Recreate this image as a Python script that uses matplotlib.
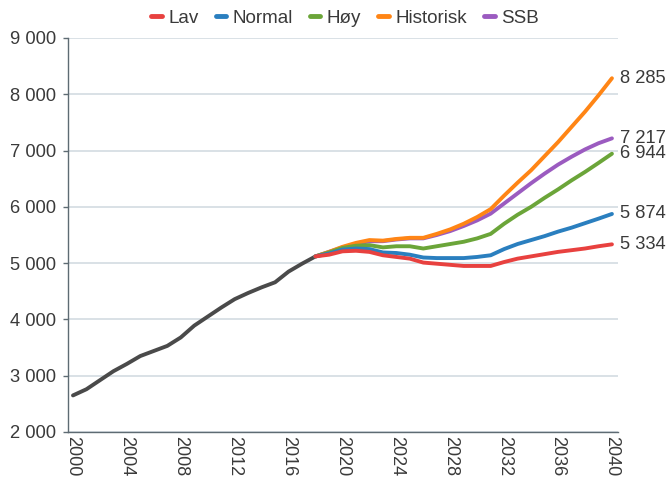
import matplotlib
matplotlib.use("Agg")
import matplotlib.pyplot as plt
from matplotlib.lines import Line2D
from matplotlib.ticker import FuncFormatter

plt.rcParams['font.family'] = ['Liberation Sans', 'DejaVu Sans']

hist_years = list(range(2000, 2019))
hist_vals = [2650, 2760, 2920, 3080, 3210, 3350, 3440, 3530, 3680, 3890,
             4050, 4210, 4360, 4470, 4570, 4660, 4850, 4990, 5120]

proj_years = list(range(2018, 2041))
lav = [5120, 5150, 5210, 5220, 5200, 5140, 5110, 5080, 5010, 4990, 4970, 4950,
       4950, 4950, 5020, 5080, 5120, 5160, 5200, 5230, 5260, 5300, 5334]
normal = [5120, 5170, 5240, 5260, 5250, 5190, 5180, 5150, 5100, 5090, 5090, 5090,
          5110, 5140, 5250, 5340, 5410, 5480, 5560, 5630, 5710, 5790, 5874]
hoy = [5120, 5190, 5270, 5310, 5320, 5280, 5300, 5300, 5260, 5300, 5340, 5380,
       5440, 5520, 5700, 5860, 6000, 6160, 6310, 6470, 6620, 6780, 6944]
historisk = [5120, 5200, 5290, 5360, 5410, 5400, 5430, 5450, 5450, 5520, 5600, 5700,
             5820, 5960, 6200, 6430, 6650, 6900, 7150, 7420, 7690, 7980, 8285]
ssb = [5120, 5200, 5280, 5340, 5390, 5390, 5420, 5440, 5440, 5500, 5570, 5660,
       5760, 5880, 6060, 6240, 6420, 6590, 6750, 6890, 7020, 7130, 7217]

series_names = ["Lav", "Normal", "Høy", "Historisk", "SSB"]
series_vals = [lav, normal, hoy, historisk, ssb]
colors = ["#E8413F", "#2A7FBF", "#6BA539", "#FF8515", "#9B5BC0"]
hist_color = "#4A4A4A"
text_color = "#3A3A3A"

x_ticks = list(range(2000, 2041, 4))
y_ticks = list(range(2000, 9001, 1000))

fig = plt.figure(figsize=(6.7, 4.83), dpi=100)
ax = fig.add_axes([68/670, 1-432/483, 550/670, 394/483])

ax.plot(hist_years, hist_vals, color=hist_color, lw=2.8, solid_capstyle='round', zorder=3)
draw_order = [4, 3, 2, 1, 0]
for i in draw_order:
    ax.plot(proj_years, series_vals[i], color=colors[i], lw=2.8,
            solid_capstyle='round', zorder=3 + (5 - i) * 0.1 + 0.5)

for i in range(5):
    v = series_vals[i][-1]
    ax.annotate(f"{v:,}".replace(",", " "), xy=(proj_years[-1], v),
                xytext=(6, 0), textcoords='offset points',
                va='center', ha='left', fontsize=13.2, color=text_color,
                annotation_clip=False)

ax.set_xlim(1999.63, 2040.45)
ax.set_ylim(2000, 9000)
ax.set_xticks(x_ticks)
ax.set_xticklabels([str(t) for t in x_ticks], rotation=-90, fontsize=13, color=text_color)
ax.set_yticks(y_ticks)
ax.yaxis.set_major_formatter(FuncFormatter(lambda v, p: f"{int(v):,}".replace(",", " ")))
ax.tick_params(axis='y', labelsize=13.2, labelcolor=text_color, length=3.5,
               width=1.0, color="#5E6B73", pad=5)
ax.tick_params(axis='x', length=0, pad=3)

ax.grid(axis='y', color="#D3DCE1", lw=1.2)
ax.set_axisbelow(True)
for s in ['top', 'right']:
    ax.spines[s].set_visible(False)
for s in ['left', 'bottom']:
    ax.spines[s].set_color("#5E6B73")
    ax.spines[s].set_linewidth(1.0)

handles = [Line2D([0], [0], color=c, lw=3.5, solid_capstyle='round') for c in colors]
fig.legend(handles, series_names, loc='upper center', bbox_to_anchor=(0.515, 1.015),
           ncol=5, frameon=False, fontsize=13.6, handlelength=0.55,
           handletextpad=0.35, columnspacing=0.9, labelcolor=text_color)

fig.savefig("out.png", dpi=100)
